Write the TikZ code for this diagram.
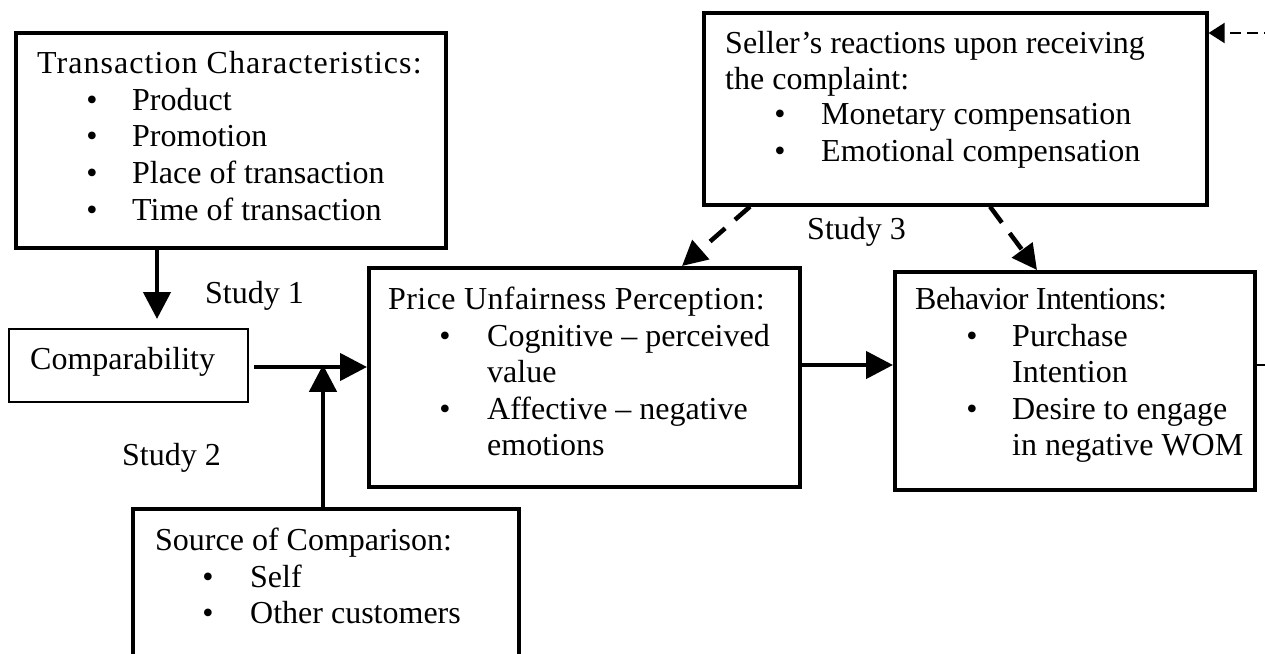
\documentclass[tikz,border=0pt]{standalone}
\usepackage{fontspec}
\setmainfont{Liberation Serif}
\usetikzlibrary{arrows.meta,calc}
\begin{document}
\begin{tikzpicture}[x=1pt,y=-1pt,
  box/.style={draw, line width=3.6pt, anchor=north west, inner sep=0pt},
  thinbox/.style={draw, line width=2.4pt, anchor=north west, inner sep=0pt},
  txt/.style={anchor=base west, inner sep=0pt, font=\fontsize{32}{38}\selectfont},
  bul/.style={anchor=base, inner sep=0pt, font=\fontsize{32}{38}\selectfont},
  conn/.style={line width=4.5pt, -{Triangle[length=27pt,width=27pt]}},
  dconn/.style={line width=4.5pt, dash pattern=on 20pt off 13pt, -{Triangle[length=25pt,width=25pt]}},
  fconn/.style={line width=2pt, dash pattern=on 11pt off 6pt, -{Triangle[length=16pt,width=20pt]}},
  plain/.style={line width=2pt}]
\useasboundingbox (0,0) rectangle (1265,653);
\clip (0,0) rectangle (1265,653);

% boxes
\node[box, minimum width=430pt, minimum height=215pt] (trans) at (14,31) {};
\node[thinbox, minimum width=239pt, minimum height=73pt] (comp) at (8,328) {};
\node[box, minimum width=431pt, minimum height=219pt] (price) at (367,266) {};
\node[box, minimum width=360pt, minimum height=218pt] (behav) at (893,270) {};
\node[box, minimum width=503pt, minimum height=192pt] (seller) at (702,11) {};
\node[box, minimum width=386pt, minimum height=220pt] (source) at (131,507) {};

% transaction characteristics
\node[txt] (t0) at (37,73) {\addfontfeature{LetterSpace=3.3}Transaction Characteristics:};
\foreach \y/\s [count=\i] in {110/Product,146/Promotion,183/Place of transaction,220/Time of transaction}{
  \node[bul] (tb\i) at (92,\y) {•};
  \node[txt] (tt\i) at (132,\y) {\s};
}

% comparability
\node[txt] (c0) at (30,369) {Comparability};

% study labels
\node[txt] (st1) at (205,303) {Study 1};
\node[txt] (st2) at (122,465) {Study 2};
\node[txt] (st3) at (807,239) {Study 3};

% price unfairness perception
\node[txt] (p0) at (388,309) {\addfontfeature{LetterSpace=1.3}Price Unfairness Perception:};
\node[bul] (pb1) at (445,346) {•};
\node[txt] (pt1) at (487,346) {Cognitive – perceived};
\node[txt] (pt2) at (487,382) {value};
\node[bul] (pb2) at (445,419) {•};
\node[txt] (pt3) at (487,419) {Affective – negative};
\node[txt] (pt4) at (487,455) {emotions};

% behavior intentions
\node[txt] (b0) at (915,309) {\addfontfeature{LetterSpace=-1.8}Behavior Intentions:};
\node[bul] (bb1) at (972,346) {•};
\node[txt] (bt1) at (1012,346) {Purchase};
\node[txt] (bt2) at (1012,382) {Intention};
\node[bul] (bb2) at (972,419) {•};
\node[txt] (bt3) at (1012,419) {Desire to engage};
\node[txt] (bt4) at (1012,455) {in negative WOM};

% seller's reactions
\node[txt] (s0) at (725,53) {Seller’s reactions upon receiving};
\node[txt] (s1) at (725,89) {the complaint:};
\node[bul] (sb1) at (780,124) {•};
\node[txt] (st1x) at (821,124) {Monetary compensation};
\node[bul] (sb2) at (780,161) {•};
\node[txt] (st2x) at (821,161) {Emotional compensation};

% source of comparison
\node[txt] (o0) at (155,550) {Source of Comparison:};
\node[bul] (ob1) at (208,587) {•};
\node[txt] (ot1) at (250,587) {Self};
\node[bul] (ob2) at (208,623) {•};
\node[txt] (ot2) at (250,623) {Other customers};

% connectors
\coordinate (ta) at ($(trans.south west)+(143,0)$);
\coordinate (j) at (323,367);
\coordinate (pb) at (820,365);
\coordinate (fb) at (1275,33);
\coordinate (out) at (1275,365);
\coordinate (d1) at ($(seller.south west)+(48,0)$);
\coordinate (d2) at ($(price.north west)+(315,0)$);
\coordinate (d3) at ($(seller.south west)+(288,0)$);
\coordinate (d4) at ($(behav.north west)+(144,0)$);

\draw[conn, shorten >=9pt] (ta) -- (ta |- comp.north);
\draw[conn, shorten <=5pt] (comp.east |- j) -- (j -| price.west);
\draw[conn, shorten >=-2.2pt] (j |- source.north) -- (j);
\draw[conn] (pb -| price.east) -- (pb -| behav.west);
\draw[dconn] (d1) -- (d2);
\draw[dconn] (d3) -- (d4);
\draw[fconn] (fb) -- (fb -| seller.east);
\draw[plain] (behav.east |- out) -- (out);
\end{tikzpicture}
\end{document}
